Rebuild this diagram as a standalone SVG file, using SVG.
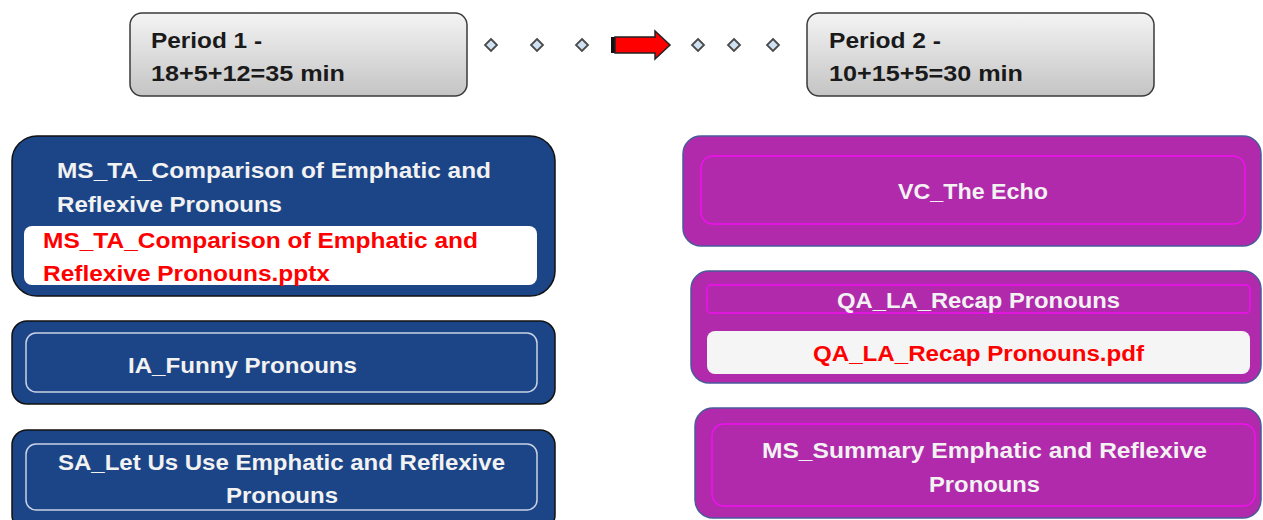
<svg xmlns="http://www.w3.org/2000/svg" width="1263" height="520" viewBox="0 0 1263 520">
<defs>
<linearGradient id="gray" x1="0" y1="0" x2="0" y2="1">
<stop offset="0" stop-color="#f4f4f4"/>
<stop offset="1" stop-color="#c4c4c4"/>
</linearGradient>
<style>
text{font-family:"Liberation Sans",Arial,sans-serif;font-weight:bold;font-size:22px}
.blk{fill:#1a1a1a}
.wht{fill:#f2f2f2}
.red{fill:#ff0000}
.period{fill:url(#gray);stroke:#3a3a3a;stroke-width:1.5}
.blue{fill:#1c4587;stroke:#111;stroke-width:1.5}
.binner{fill:none;stroke:#c9d2e6;stroke-width:1.5}
.purple{fill:#b02aab;stroke:#4a5a9a;stroke-width:1.5}
.pinner{fill:none;stroke:#f010f0;stroke-width:1.5}
.dia{fill:#cfe2f3;stroke:#4a4a4a;stroke-width:1.8}
</style>
</defs>
<g id="period1">
<rect class="period" x="130" y="13" width="337" height="83" rx="12"/>
<text class="blk" x="151" y="48" textLength="111" lengthAdjust="spacingAndGlyphs">Period 1 -</text>
<text class="blk" x="151" y="81" textLength="194" lengthAdjust="spacingAndGlyphs">18+5+12=35 min</text>
</g>
<g id="period2">
<rect class="period" x="807" y="13" width="347" height="83" rx="12"/>
<text class="blk" x="829" y="48" textLength="112" lengthAdjust="spacingAndGlyphs">Period 2 -</text>
<text class="blk" x="829" y="81" textLength="194" lengthAdjust="spacingAndGlyphs">10+15+5=30 min</text>
</g>
<g id="connectors">
<path class="dia" d="M491 39 L497 45 L491 51 L485 45 Z"/>
<path class="dia" d="M537 39 L543 45 L537 51 L531 45 Z"/>
<path class="dia" d="M582 39 L588 45 L582 51 L576 45 Z"/>
<path class="dia" d="M698 39 L704 45 L698 51 L692 45 Z"/>
<path class="dia" d="M734 39 L740 45 L734 51 L728 45 Z"/>
<path class="dia" d="M773 39 L779 45 L773 51 L767 45 Z"/>
<rect x="611" y="37" width="6" height="16" fill="#111"/>
<path d="M615 37 L655 37 L655 31 L670 45 L655 59 L655 53 L615 53 Z" fill="#ff0000" stroke="#222" stroke-width="1.5"/>
</g>
<g id="ms_ta">
<rect class="blue" x="12" y="136" width="543" height="160" rx="25"/>
<text class="wht" x="57" y="178" textLength="434" lengthAdjust="spacingAndGlyphs">MS_TA_Comparison of Emphatic and</text>
<text class="wht" x="57" y="212" textLength="225" lengthAdjust="spacingAndGlyphs">Reflexive Pronouns</text>
<rect x="24" y="226" width="513" height="59" rx="8" fill="#ffffff"/>
<text class="red" x="43" y="248" textLength="435" lengthAdjust="spacingAndGlyphs">MS_TA_Comparison of Emphatic and</text>
<text class="red" x="43" y="281" textLength="287" lengthAdjust="spacingAndGlyphs">Reflexive Pronouns.pptx</text>
</g>
<g id="ia">
<rect class="blue" x="12" y="321" width="543" height="83" rx="15"/>
<rect class="binner" x="26" y="333" width="511" height="59" rx="10"/>
<text class="wht" x="128" y="373" textLength="229" lengthAdjust="spacingAndGlyphs">IA_Funny Pronouns</text>
</g>
<g id="sa">
<rect class="blue" x="12" y="430" width="543" height="100" rx="15"/>
<rect class="binner" x="26" y="444" width="511" height="66" rx="10"/>
<text class="wht" x="58" y="470" textLength="447" lengthAdjust="spacingAndGlyphs">SA_Let Us Use Emphatic and Reflexive</text>
<text class="wht" x="226" y="503" textLength="112" lengthAdjust="spacingAndGlyphs">Pronouns</text>
</g>
<g id="vc">
<rect class="purple" x="683" y="136" width="578" height="110" rx="18"/>
<rect class="pinner" x="701" y="156" width="544" height="68" rx="12"/>
<text class="wht" x="898" y="199" textLength="150" lengthAdjust="spacingAndGlyphs">VC_The Echo</text>
</g>
<g id="qa">
<rect class="purple" x="691" y="271" width="570" height="112" rx="18"/>
<rect class="pinner" x="707" y="285" width="543" height="28" rx="4"/>
<text class="wht" x="837" y="308" textLength="283" lengthAdjust="spacingAndGlyphs">QA_LA_Recap Pronouns</text>
<rect x="707" y="331" width="543" height="43" rx="8" fill="#f5f5f5"/>
<text class="red" x="813" y="361" textLength="331" lengthAdjust="spacingAndGlyphs">QA_LA_Recap Pronouns.pdf</text>
</g>
<g id="ms_summary">
<rect class="purple" x="695" y="408" width="566" height="110" rx="18"/>
<rect class="pinner" x="712" y="424" width="543" height="82" rx="12"/>
<text class="wht" x="762" y="458" textLength="445" lengthAdjust="spacingAndGlyphs">MS_Summary Emphatic and Reflexive</text>
<text class="wht" x="929" y="492" textLength="111" lengthAdjust="spacingAndGlyphs">Pronouns</text>
</g>
</svg>
